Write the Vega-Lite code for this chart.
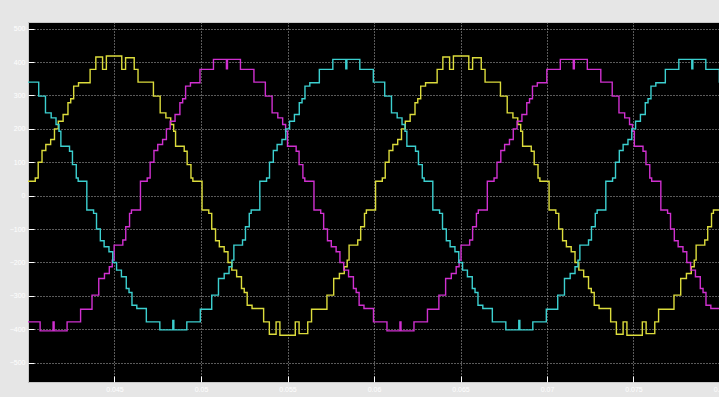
{
"$schema": "https://vega.github.io/schema/vega-lite/v6.json",
"width": 692, "height": 360,
"autosize": {"type": "none"},
"padding": {"left": 28, "top": 22, "right": 0, "bottom": 15},
"background": "#e6e6e6",
"config": {"view": {"fill": "#000000", "stroke": "#c8c8c8", "strokeWidth": 1}, "font": "Liberation Sans"},
"datasets": {"w": [
{"s":"y","t":0.04,"v":43},{"s":"y","t":0.04042,"v":53},{"s":"y","t":0.04059,"v":100},{"s":"y","t":0.04081,"v":135},{"s":"y","t":0.04103,"v":153},{"s":"y","t":0.04131,"v":168},{"s":"y","t":0.04153,"v":200},{"s":"y","t":0.04175,"v":223},{"s":"y","t":0.04203,"v":243},{"s":"y","t":0.04231,"v":278},{"s":"y","t":0.04247,"v":290},{"s":"y","t":0.04264,"v":328},{"s":"y","t":0.04292,"v":338},{"s":"y","t":0.04359,"v":378},{"s":"y","t":0.04392,"v":415},{"s":"y","t":0.04431,"v":378},{"s":"y","t":0.04453,"v":418},{"s":"y","t":0.04542,"v":378},{"s":"y","t":0.04564,"v":413},{"s":"y","t":0.04614,"v":378},{"s":"y","t":0.04636,"v":340},{"s":"y","t":0.04725,"v":298},{"s":"y","t":0.04764,"v":248},{"s":"y","t":0.04797,"v":233},{"s":"y","t":0.04825,"v":213},{"s":"y","t":0.04842,"v":193},{"s":"y","t":0.04853,"v":148},{"s":"y","t":0.04903,"v":133},{"s":"y","t":0.0492,"v":93},{"s":"y","t":0.04942,"v":53},{"s":"y","t":0.04953,"v":43},
{"s":"y","t":0.05006,"v":-43},{"s":"y","t":0.05045,"v":-53},{"s":"y","t":0.05062,"v":-100},{"s":"y","t":0.05084,"v":-135},{"s":"y","t":0.05106,"v":-153},{"s":"y","t":0.05134,"v":-168},{"s":"y","t":0.05156,"v":-200},{"s":"y","t":0.05178,"v":-223},{"s":"y","t":0.05206,"v":-243},{"s":"y","t":0.05234,"v":-278},{"s":"y","t":0.0525,"v":-290},{"s":"y","t":0.05267,"v":-328},{"s":"y","t":0.05295,"v":-338},{"s":"y","t":0.05362,"v":-378},{"s":"y","t":0.05395,"v":-415},{"s":"y","t":0.05434,"v":-378},{"s":"y","t":0.05456,"v":-418},{"s":"y","t":0.05545,"v":-378},{"s":"y","t":0.05567,"v":-413},{"s":"y","t":0.05617,"v":-378},{"s":"y","t":0.05639,"v":-340},{"s":"y","t":0.05728,"v":-298},{"s":"y","t":0.05767,"v":-248},{"s":"y","t":0.058,"v":-233},{"s":"y","t":0.05828,"v":-213},{"s":"y","t":0.05845,"v":-193},{"s":"y","t":0.05856,"v":-148},{"s":"y","t":0.05906,"v":-133},{"s":"y","t":0.05923,"v":-93},{"s":"y","t":0.05945,"v":-53},{"s":"y","t":0.05956,"v":-43},
{"s":"y","t":0.06009,"v":43},{"s":"y","t":0.06048,"v":53},{"s":"y","t":0.06065,"v":100},{"s":"y","t":0.06087,"v":135},{"s":"y","t":0.06109,"v":153},{"s":"y","t":0.06137,"v":168},{"s":"y","t":0.06159,"v":200},{"s":"y","t":0.06181,"v":223},{"s":"y","t":0.06209,"v":243},{"s":"y","t":0.06237,"v":278},{"s":"y","t":0.06253,"v":290},{"s":"y","t":0.0627,"v":328},{"s":"y","t":0.06298,"v":338},{"s":"y","t":0.06365,"v":378},{"s":"y","t":0.06398,"v":415},{"s":"y","t":0.06437,"v":378},{"s":"y","t":0.06459,"v":418},{"s":"y","t":0.06548,"v":378},{"s":"y","t":0.0657,"v":413},{"s":"y","t":0.0662,"v":378},{"s":"y","t":0.06642,"v":340},{"s":"y","t":0.06731,"v":298},{"s":"y","t":0.0677,"v":248},{"s":"y","t":0.06803,"v":233},{"s":"y","t":0.06831,"v":213},{"s":"y","t":0.06848,"v":193},{"s":"y","t":0.06859,"v":148},{"s":"y","t":0.06909,"v":133},{"s":"y","t":0.06926,"v":93},{"s":"y","t":0.06948,"v":53},{"s":"y","t":0.06959,"v":43},
{"s":"y","t":0.07012,"v":-43},{"s":"y","t":0.07051,"v":-53},{"s":"y","t":0.07068,"v":-100},{"s":"y","t":0.0709,"v":-135},{"s":"y","t":0.07112,"v":-153},{"s":"y","t":0.0714,"v":-168},{"s":"y","t":0.07162,"v":-200},{"s":"y","t":0.07184,"v":-223},{"s":"y","t":0.07212,"v":-243},{"s":"y","t":0.0724,"v":-278},{"s":"y","t":0.07256,"v":-290},{"s":"y","t":0.07273,"v":-328},{"s":"y","t":0.07301,"v":-338},{"s":"y","t":0.07368,"v":-378},{"s":"y","t":0.07401,"v":-415},{"s":"y","t":0.0744,"v":-378},{"s":"y","t":0.07462,"v":-418},{"s":"y","t":0.07551,"v":-378},{"s":"y","t":0.07573,"v":-413},{"s":"y","t":0.07623,"v":-378},{"s":"y","t":0.07645,"v":-340},{"s":"y","t":0.07734,"v":-298},{"s":"y","t":0.07773,"v":-248},{"s":"y","t":0.07806,"v":-233},{"s":"y","t":0.07834,"v":-213},{"s":"y","t":0.07851,"v":-193},{"s":"y","t":0.07862,"v":-148},{"s":"y","t":0.07912,"v":-133},{"s":"y","t":0.07929,"v":-93},{"s":"y","t":0.07951,"v":-53},{"s":"y","t":0.07962,"v":-43},{"s":"y","t":0.08,"v":-43},
{"s":"m","t":0.04,"v":-378},{"s":"m","t":0.0407,"v":-405},{"s":"m","t":0.04145,"v":-378},{"s":"m","t":0.04151,"v":-405},{"s":"m","t":0.04226,"v":-378},{"s":"m","t":0.04304,"v":-340},{"s":"m","t":0.0437,"v":-298},{"s":"m","t":0.04409,"v":-248},{"s":"m","t":0.04442,"v":-233},{"s":"m","t":0.0447,"v":-213},{"s":"m","t":0.04487,"v":-193},{"s":"m","t":0.04498,"v":-148},{"s":"m","t":0.04548,"v":-133},{"s":"m","t":0.04565,"v":-93},{"s":"m","t":0.04587,"v":-53},{"s":"m","t":0.04598,"v":-43},
{"s":"m","t":0.0465,"v":43},{"s":"m","t":0.04689,"v":53},{"s":"m","t":0.04706,"v":100},{"s":"m","t":0.04728,"v":135},{"s":"m","t":0.0475,"v":153},{"s":"m","t":0.04778,"v":168},{"s":"m","t":0.048,"v":200},{"s":"m","t":0.04822,"v":223},{"s":"m","t":0.0485,"v":243},{"s":"m","t":0.04878,"v":278},{"s":"m","t":0.04894,"v":290},{"s":"m","t":0.04911,"v":328},{"s":"m","t":0.04939,"v":338},{"s":"m","t":0.04994,"v":378},{"s":"m","t":0.05072,"v":408},{"s":"m","t":0.05147,"v":380},{"s":"m","t":0.05153,"v":408},{"s":"m","t":0.05228,"v":378},{"s":"m","t":0.05306,"v":340},{"s":"m","t":0.05372,"v":298},{"s":"m","t":0.05411,"v":248},{"s":"m","t":0.05444,"v":233},{"s":"m","t":0.05472,"v":213},{"s":"m","t":0.05489,"v":193},{"s":"m","t":0.055,"v":148},{"s":"m","t":0.0555,"v":133},{"s":"m","t":0.05567,"v":93},{"s":"m","t":0.05589,"v":53},{"s":"m","t":0.056,"v":43},
{"s":"m","t":0.05653,"v":-43},{"s":"m","t":0.05692,"v":-53},{"s":"m","t":0.05709,"v":-100},{"s":"m","t":0.05731,"v":-135},{"s":"m","t":0.05753,"v":-153},{"s":"m","t":0.05781,"v":-168},{"s":"m","t":0.05803,"v":-200},{"s":"m","t":0.05825,"v":-223},{"s":"m","t":0.05853,"v":-243},{"s":"m","t":0.05881,"v":-278},{"s":"m","t":0.05897,"v":-290},{"s":"m","t":0.05914,"v":-328},{"s":"m","t":0.05942,"v":-338},{"s":"m","t":0.05997,"v":-378},{"s":"m","t":0.06075,"v":-405},{"s":"m","t":0.0615,"v":-378},{"s":"m","t":0.06156,"v":-405},{"s":"m","t":0.06231,"v":-378},{"s":"m","t":0.06309,"v":-340},{"s":"m","t":0.06375,"v":-298},{"s":"m","t":0.06414,"v":-248},{"s":"m","t":0.06447,"v":-233},{"s":"m","t":0.06475,"v":-213},{"s":"m","t":0.06492,"v":-193},{"s":"m","t":0.06503,"v":-148},{"s":"m","t":0.06553,"v":-133},{"s":"m","t":0.0657,"v":-93},{"s":"m","t":0.06592,"v":-53},{"s":"m","t":0.06603,"v":-43},
{"s":"m","t":0.06655,"v":43},{"s":"m","t":0.06694,"v":53},{"s":"m","t":0.06711,"v":100},{"s":"m","t":0.06733,"v":135},{"s":"m","t":0.06755,"v":153},{"s":"m","t":0.06783,"v":168},{"s":"m","t":0.06805,"v":200},{"s":"m","t":0.06827,"v":223},{"s":"m","t":0.06855,"v":243},{"s":"m","t":0.06883,"v":278},{"s":"m","t":0.06899,"v":290},{"s":"m","t":0.06916,"v":328},{"s":"m","t":0.06944,"v":338},{"s":"m","t":0.06999,"v":378},{"s":"m","t":0.07077,"v":408},{"s":"m","t":0.07152,"v":380},{"s":"m","t":0.07158,"v":408},{"s":"m","t":0.07233,"v":378},{"s":"m","t":0.07311,"v":340},{"s":"m","t":0.07377,"v":298},{"s":"m","t":0.07416,"v":248},{"s":"m","t":0.07449,"v":233},{"s":"m","t":0.07477,"v":213},{"s":"m","t":0.07494,"v":193},{"s":"m","t":0.07505,"v":148},{"s":"m","t":0.07555,"v":133},{"s":"m","t":0.07572,"v":93},{"s":"m","t":0.07594,"v":53},{"s":"m","t":0.07605,"v":43},
{"s":"m","t":0.07658,"v":-43},{"s":"m","t":0.07697,"v":-53},{"s":"m","t":0.07714,"v":-100},{"s":"m","t":0.07736,"v":-135},{"s":"m","t":0.07758,"v":-153},{"s":"m","t":0.07786,"v":-168},{"s":"m","t":0.07808,"v":-200},{"s":"m","t":0.0783,"v":-223},{"s":"m","t":0.07858,"v":-243},{"s":"m","t":0.07886,"v":-278},{"s":"m","t":0.07902,"v":-290},{"s":"m","t":0.07919,"v":-328},{"s":"m","t":0.07947,"v":-338},{"s":"m","t":0.08,"v":-338},
{"s":"c","t":0.04,"v":340},{"s":"c","t":0.04062,"v":298},{"s":"c","t":0.04101,"v":248},{"s":"c","t":0.04134,"v":233},{"s":"c","t":0.04162,"v":213},{"s":"c","t":0.04179,"v":193},{"s":"c","t":0.0419,"v":148},{"s":"c","t":0.0424,"v":133},{"s":"c","t":0.04257,"v":93},{"s":"c","t":0.04279,"v":53},{"s":"c","t":0.0429,"v":43},
{"s":"c","t":0.0434,"v":-43},{"s":"c","t":0.04379,"v":-53},{"s":"c","t":0.04396,"v":-100},{"s":"c","t":0.04418,"v":-135},{"s":"c","t":0.0444,"v":-153},{"s":"c","t":0.04468,"v":-168},{"s":"c","t":0.0449,"v":-200},{"s":"c","t":0.04512,"v":-223},{"s":"c","t":0.0454,"v":-243},{"s":"c","t":0.04568,"v":-278},{"s":"c","t":0.04584,"v":-290},{"s":"c","t":0.04601,"v":-328},{"s":"c","t":0.04629,"v":-338},{"s":"c","t":0.04684,"v":-378},{"s":"c","t":0.04762,"v":-402},{"s":"c","t":0.04837,"v":-374},{"s":"c","t":0.04843,"v":-402},{"s":"c","t":0.04918,"v":-378},{"s":"c","t":0.04996,"v":-340},{"s":"c","t":0.05062,"v":-298},{"s":"c","t":0.05101,"v":-248},{"s":"c","t":0.05134,"v":-233},{"s":"c","t":0.05162,"v":-213},{"s":"c","t":0.05179,"v":-193},{"s":"c","t":0.0519,"v":-148},{"s":"c","t":0.0524,"v":-133},{"s":"c","t":0.05257,"v":-93},{"s":"c","t":0.05279,"v":-53},{"s":"c","t":0.0529,"v":-43},
{"s":"c","t":0.0534,"v":43},{"s":"c","t":0.05379,"v":53},{"s":"c","t":0.05396,"v":100},{"s":"c","t":0.05418,"v":135},{"s":"c","t":0.0544,"v":153},{"s":"c","t":0.05468,"v":168},{"s":"c","t":0.0549,"v":200},{"s":"c","t":0.05512,"v":223},{"s":"c","t":0.0554,"v":243},{"s":"c","t":0.05568,"v":278},{"s":"c","t":0.05584,"v":290},{"s":"c","t":0.05601,"v":328},{"s":"c","t":0.05629,"v":338},{"s":"c","t":0.05684,"v":378},{"s":"c","t":0.05762,"v":408},{"s":"c","t":0.05837,"v":380},{"s":"c","t":0.05843,"v":408},{"s":"c","t":0.05918,"v":378},{"s":"c","t":0.05996,"v":340},{"s":"c","t":0.06062,"v":298},{"s":"c","t":0.06101,"v":248},{"s":"c","t":0.06134,"v":233},{"s":"c","t":0.06162,"v":213},{"s":"c","t":0.06179,"v":193},{"s":"c","t":0.0619,"v":148},{"s":"c","t":0.0624,"v":133},{"s":"c","t":0.06257,"v":93},{"s":"c","t":0.06279,"v":53},{"s":"c","t":0.0629,"v":43},
{"s":"c","t":0.0634,"v":-43},{"s":"c","t":0.06379,"v":-53},{"s":"c","t":0.06396,"v":-100},{"s":"c","t":0.06418,"v":-135},{"s":"c","t":0.0644,"v":-153},{"s":"c","t":0.06468,"v":-168},{"s":"c","t":0.0649,"v":-200},{"s":"c","t":0.06512,"v":-223},{"s":"c","t":0.0654,"v":-243},{"s":"c","t":0.06568,"v":-278},{"s":"c","t":0.06584,"v":-290},{"s":"c","t":0.06601,"v":-328},{"s":"c","t":0.06629,"v":-338},{"s":"c","t":0.06684,"v":-378},{"s":"c","t":0.06762,"v":-402},{"s":"c","t":0.06837,"v":-374},{"s":"c","t":0.06843,"v":-402},{"s":"c","t":0.06918,"v":-378},{"s":"c","t":0.06996,"v":-340},{"s":"c","t":0.07062,"v":-298},{"s":"c","t":0.07101,"v":-248},{"s":"c","t":0.07134,"v":-233},{"s":"c","t":0.07162,"v":-213},{"s":"c","t":0.07179,"v":-193},{"s":"c","t":0.0719,"v":-148},{"s":"c","t":0.0724,"v":-133},{"s":"c","t":0.07257,"v":-93},{"s":"c","t":0.07279,"v":-53},{"s":"c","t":0.0729,"v":-43},
{"s":"c","t":0.0734,"v":43},{"s":"c","t":0.07379,"v":53},{"s":"c","t":0.07396,"v":100},{"s":"c","t":0.07418,"v":135},{"s":"c","t":0.0744,"v":153},{"s":"c","t":0.07468,"v":168},{"s":"c","t":0.0749,"v":200},{"s":"c","t":0.07512,"v":223},{"s":"c","t":0.0754,"v":243},{"s":"c","t":0.07568,"v":278},{"s":"c","t":0.07584,"v":290},{"s":"c","t":0.07601,"v":328},{"s":"c","t":0.07629,"v":338},{"s":"c","t":0.07684,"v":378},{"s":"c","t":0.07762,"v":408},{"s":"c","t":0.07837,"v":380},{"s":"c","t":0.07843,"v":408},{"s":"c","t":0.07918,"v":378},{"s":"c","t":0.07996,"v":340},{"s":"c","t":0.08,"v":340}
]},
"data": {"name": "w"},
"mark": {"type": "line", "interpolate": "step-after", "strokeWidth": 1.4, "clip": true},
"encoding": {
  "x": {"field": "t", "type": "quantitative",
    "scale": {"domain": [0.04, 0.08], "nice": false, "zero": false},
    "axis": {"title": null, "values": [0.045, 0.05, 0.055, 0.06, 0.065, 0.07, 0.075, 0.08], "format": ".3~f",
      "grid": true, "gridColor": "#b4b4b4", "gridDash": [1, 2], "gridWidth": 1,
      "domain": false, "tickColor": "#ffffff", "tickSize": -6, "tickWidth": 1,
      "labelColor": "#ffffff", "labelFontSize": 7, "labelPadding": 9, "labelFlush": false}},
  "y": {"field": "v", "type": "quantitative",
    "scale": {"domain": [-558, 520], "nice": false, "zero": false},
    "axis": {"title": null, "values": [-500, -400, -300, -200, -100, 0, 100, 200, 300, 400, 500],
      "grid": true, "gridColor": "#b4b4b4", "gridDash": [1, 2], "gridWidth": 1,
      "domain": false, "tickColor": "#ffffff", "tickSize": -6, "tickWidth": 1,
      "labelColor": "#ffffff", "labelFontSize": 7, "labelPadding": 9}},
  "color": {"field": "s", "type": "nominal",
    "scale": {"domain": ["y", "m", "c"], "range": ["#dcdc3c", "#d030d0", "#3cd0d0"]}, "legend": null}
}
}
